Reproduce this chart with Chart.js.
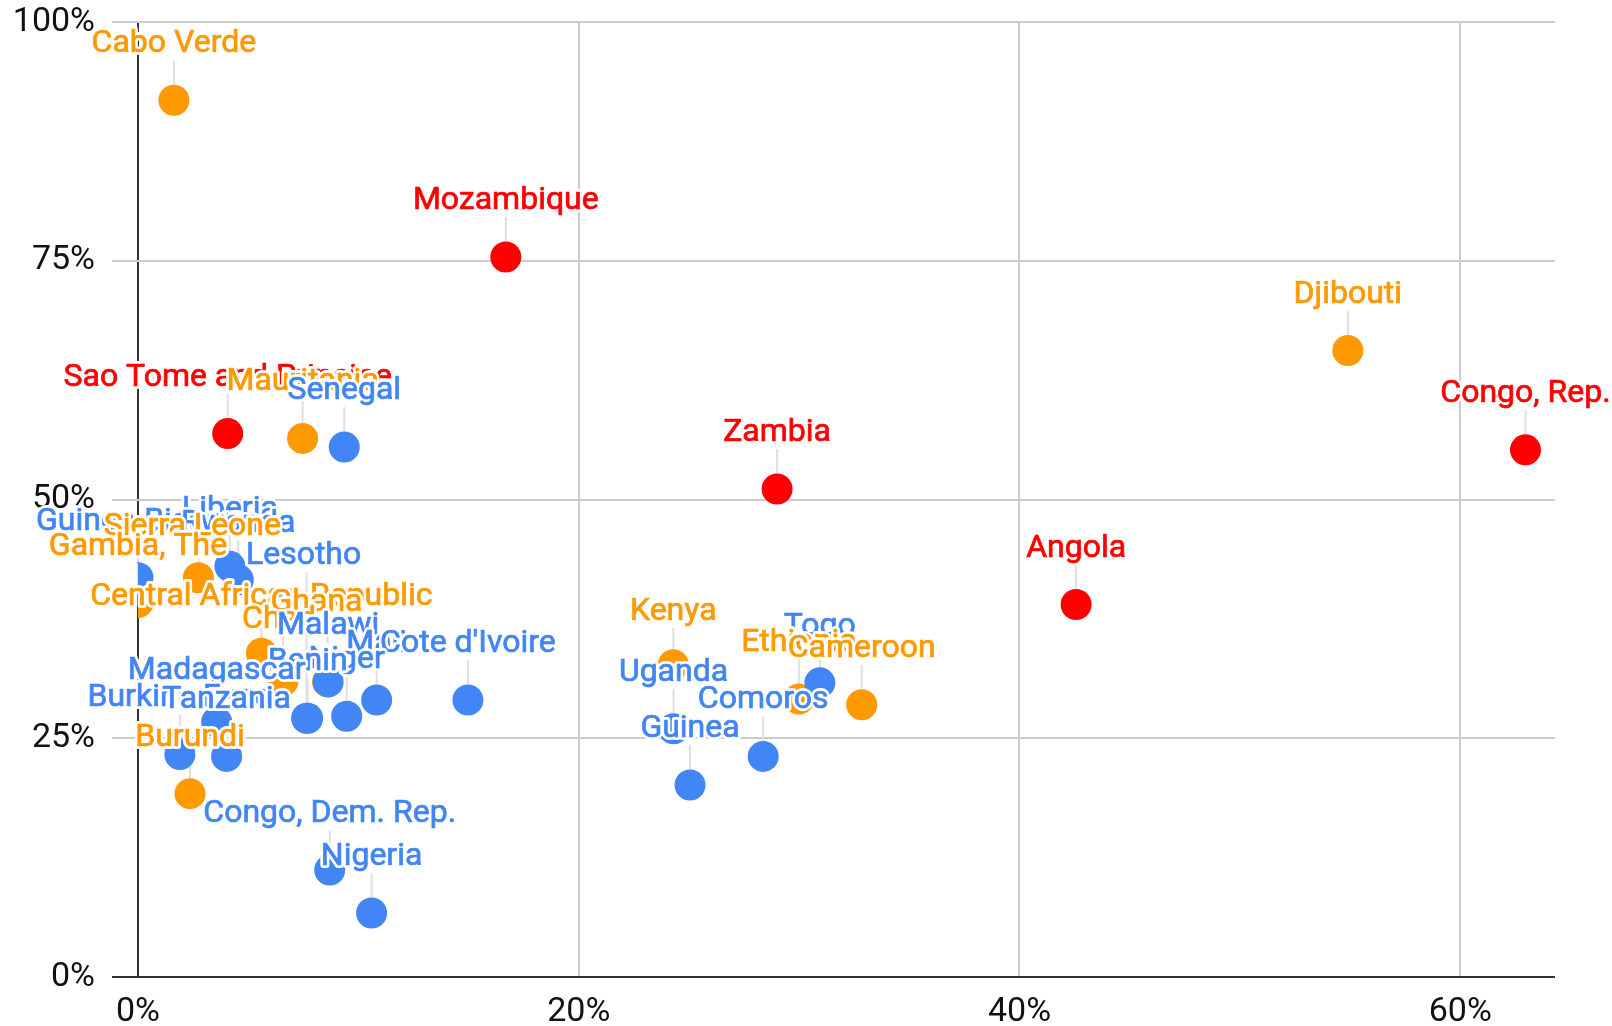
<!DOCTYPE html>
<html>
<head>
<meta charset="utf-8">
<title>Scatter</title>
<script src="https://cdn.jsdelivr.net/npm/chart.js@4"></script>
<style>
  html, body { margin: 0; padding: 0; background: #fff; }
  #wrap { position: relative; width: 1612px; height: 1026px; }
</style>
</head>
<body>
<div id="wrap"><canvas id="chart"></canvas></div>
<script>
// Blue series
const blueNames = ["Senegal", "Guinea-Bissau", "Liberia", "Rwanda", "Lesotho", "Malawi", "Mali",
  "Cote d'Ivoire", "Benin", "Niger", "Madagascar", "Burkina Faso", "Tanzania", "Congo, Dem. Rep.",
  "Nigeria", "Uganda", "Guinea", "Comoros", "Togo"];
const blueX = [9.36, 0, 4.17, 4.55, 7.65, 8.63, 10.83, 14.97, 7.7, 9.47, 3.57, 1.9, 4.02, 8.7, 10.6, 24.3, 25.05, 28.37, 30.94];
const blueY = [55.5, 41.8, 43.0, 41.6, 27.1, 30.9, 29.0, 29.0, 27.1, 27.3, 26.7, 23.3, 23.1, 11.2, 6.7, 26.0, 20.1, 23.1, 30.8];

// Orange series
const orangeNames = ["Cabo Verde", "Mauritania", "Djibouti", "Sierra Leone", "Gambia, The",
  "Central African Republic", "Chad", "Ghana", "Burundi", "Kenya", "Ethiopia", "Cameroon"];
const orangeX = [1.63, 7.47, 54.9, 2.74, 0, 5.6, 6.58, 8.6, 2.36, 24.29, 29.99, 32.84];
const orangeY = [91.8, 56.4, 65.6, 41.8, 39.2, 33.9, 31.0, 30.9, 19.2, 32.7, 29.1, 28.5];

// Red series
const redNames = ["Sao Tome and Principe", "Mozambique", "Zambia", "Angola", "Congo, Rep."];
const redX = [4.07, 16.69, 29.0, 42.57, 62.96];
const redY = [56.9, 75.4, 51.1, 39.0, 55.2];

// Axis ticks
const xTicks = [0, 20, 40, 60];
const yTicks = [0, 25, 50, 75, 100];

// label layout (stem length differs where labels were pushed up)
const LABEL_DY = -56;
const labelShift = {
  "Lesotho": { dx: -3, dy: -162 },
  "Ghana": { dx: -11, dy: -79 },
  "Chad": { dx: -4, dy: -61 },
  "Madagascar": { dx: 0, dy: -51 },
  "Sierra Leone": { dx: -6, dy: -51 },
  "Kenya": { dx: 0, dy: -53 },
};

const BLUE = "#4285F4";
const ORANGE = "#FF9900";
const RED = "#FF0000";
const POINT_R = 15.5;

function toPoints(xs, ys, names) {
  return xs.map((x, i) => ({ x: x, y: ys[i], name: names[i] }));
}

function labelPos(el, name) {
  const s = labelShift[name] || { dx: 0, dy: LABEL_DY };
  return { x: el.x + s.dx, y: el.y + s.dy, px: el.x, py: el.y };
}

// Annotation-like labels with stems
const pointLabels = {
  id: "pointLabels",
  beforeDatasetsDraw(chart) {
    const ctx = chart.ctx;
    ctx.save();
    ctx.strokeStyle = "#e0e0e0";
    ctx.lineWidth = 2;
    chart.data.datasets.forEach((ds, di) => {
      chart.getDatasetMeta(di).data.forEach((el, i) => {
        const p = labelPos(el, ds.data[i].name);
        ctx.beginPath();
        ctx.moveTo(p.px, p.y + 16);
        ctx.lineTo(p.px, p.py - POINT_R);
        ctx.stroke();
      });
    });
    ctx.restore();
  },
  afterDatasetsDraw(chart) {
    const ctx = chart.ctx;
    const items = [];
    chart.data.datasets.forEach((ds, di) => {
      chart.getDatasetMeta(di).data.forEach((el, i) => {
        const p = labelPos(el, ds.data[i].name);
        items.push({ text: ds.data[i].name, color: ds.backgroundColor, x: p.x, y: p.y });
      });
    });
    // lower labels drawn on top
    items.sort((a, b) => (Math.round(a.y) - Math.round(b.y)) || (a.x - b.x));
    ctx.save();
    ctx.font = "32px Roboto";
    ctx.textAlign = "center";
    ctx.textBaseline = "middle";
    ctx.lineJoin = "round";
    items.forEach((it) => {
      ctx.strokeStyle = "#ffffff";
      ctx.lineWidth = 6;
      ctx.strokeText(it.text, it.x, it.y);
      ctx.fillStyle = it.color;
      ctx.fillText(it.text, it.x, it.y);
      ctx.strokeStyle = it.color;
      ctx.lineWidth = 0.7;
      ctx.strokeText(it.text, it.x, it.y);
    });
    ctx.restore();
  },
};

const ctx = document.getElementById("chart").getContext("2d");
new Chart(ctx, {
  type: "scatter",
  data: {
    datasets: [
      { label: "Blue", data: toPoints(blueX, blueY, blueNames), backgroundColor: BLUE },
      { label: "Orange", data: toPoints(orangeX, orangeY, orangeNames), backgroundColor: ORANGE },
      { label: "Red", data: toPoints(redX, redY, redNames), backgroundColor: RED },
    ],
  },
  options: {
    responsive: true,
    maintainAspectRatio: false,
    animation: false,
    events: [],
    layout: { padding: { top: 22, right: 57, left: 0, bottom: 0 } },
    elements: { point: { radius: POINT_R, borderWidth: 0, hoverRadius: POINT_R } },
    plugins: { legend: { display: false }, tooltip: { enabled: false } },
    scales: {
      x: {
        type: "linear",
        min: 0,
        max: 64.3,
        afterBuildTicks: (scale) => { scale.ticks = xTicks.map((v) => ({ value: v })); },
        afterFit: (scale) => {
          scale.height = 49;
          scale.paddingLeft = 0;
          scale.paddingRight = 0;
        },
        border: { display: false },
        grid: {
          color: (c) => (c.tick && c.tick.value === 0 ? "#333333" : "#cccccc"),
          lineWidth: 2,
          drawTicks: false,
        },
        ticks: {
          padding: 15,
          color: "#111111",
          font: { family: "Roboto", size: 34 },
          callback: (v) => v + "%",
        },
      },
      y: {
        type: "linear",
        min: 0,
        max: 100,
        afterBuildTicks: (scale) => { scale.ticks = yTicks.map((v) => ({ value: v })); },
        afterFit: (scale) => {
          scale.width = 138;
          scale.paddingTop = 0;
          scale.paddingBottom = 0;
        },
        border: { display: false },
        grid: {
          color: (c) => (c.tick && c.tick.value === 0 ? "#333333" : "#cccccc"),
          lineWidth: 2,
          tickLength: 26,
        },
        ticks: {
          padding: 17,
          color: "#111111",
          font: { family: "Roboto", size: 34 },
          callback: (v) => v + "%",
        },
      },
    },
  },
  plugins: [pointLabels],
});
</script>
</body>
</html>
